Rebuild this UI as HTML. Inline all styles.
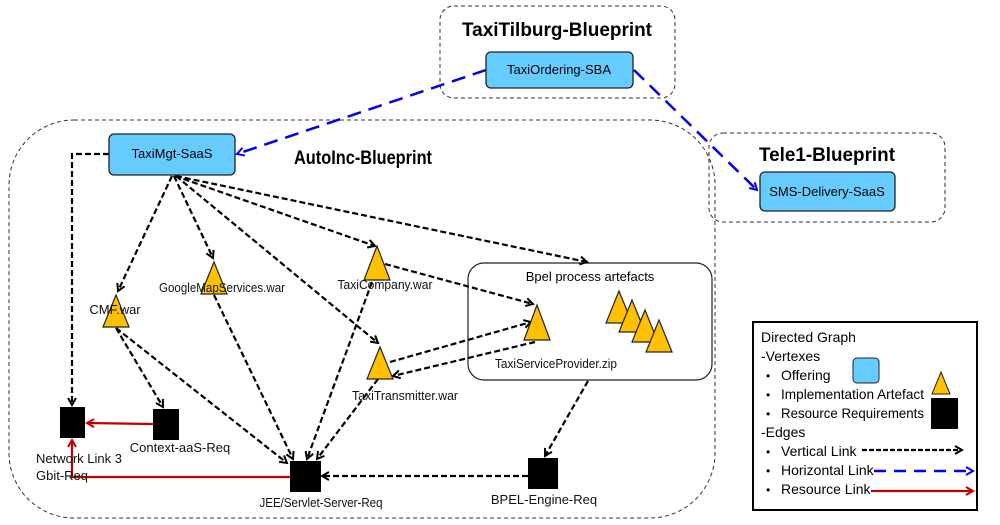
<!DOCTYPE html>
<html><head><style>
body{margin:0;background:#fff;}
svg{display:block;font-family:"Liberation Sans",sans-serif;}
</style></head><body>
<svg width="1000" height="525" viewBox="0 0 1000 525" xmlns="http://www.w3.org/2000/svg">
<defs>
<marker id="ak" markerWidth="10" markerHeight="10" refX="8" refY="5" orient="auto" markerUnits="userSpaceOnUse"><path d="M1,1 L8,5 L1,9" fill="none" stroke="#000" stroke-width="2"/></marker>
<marker id="ab" markerWidth="10" markerHeight="10" refX="8" refY="5" orient="auto" markerUnits="userSpaceOnUse"><path d="M1,1 L8,5 L1,9" fill="none" stroke="#0000ee" stroke-width="2"/></marker>
<marker id="ar" markerWidth="10" markerHeight="10" refX="8" refY="5" orient="auto" markerUnits="userSpaceOnUse"><path d="M1,1 L8,5 L1,9" fill="none" stroke="#c00000" stroke-width="2"/></marker>
</defs>
<rect x="440" y="6" width="235" height="92" rx="14" fill="none" stroke="#333" stroke-dasharray="4,3"/>
<rect x="709" y="133" width="236" height="89" rx="14" fill="none" stroke="#333" stroke-dasharray="4,3"/>
<rect x="9" y="120" width="706" height="398" rx="65" fill="none" stroke="#333" stroke-dasharray="4,3"/>
<rect x="468" y="263" width="244" height="117" rx="16" fill="none" stroke="#222" stroke-width="1.2"/>
<text x="557" y="36" font-size="19" font-weight="bold" text-anchor="middle" textLength="190" lengthAdjust="spacingAndGlyphs">TaxiTilburg-Blueprint</text>
<text x="827" y="161" font-size="19" font-weight="bold" text-anchor="middle" textLength="136" lengthAdjust="spacingAndGlyphs">Tele1-Blueprint</text>
<text x="363" y="164" font-size="19" font-weight="bold" text-anchor="middle" textLength="138" lengthAdjust="spacingAndGlyphs">AutoInc-Blueprint</text>
<text x="590" y="281" font-size="13" text-anchor="middle">Bpel process artefacts</text>

<g stroke="#000" stroke-width="2.2" stroke-dasharray="6,3" fill="none" marker-end="url(#ak)">
<path d="M109,154 L72,154 L72,405"/>
<line x1="172" y1="176" x2="118" y2="291"/>
<line x1="174" y1="176" x2="213" y2="258"/>
<line x1="175" y1="176" x2="375" y2="246"/>
<line x1="176" y1="176" x2="378" y2="343"/>
<line x1="176" y1="176" x2="587" y2="262"/>
<line x1="385" y1="264" x2="533" y2="304"/>
<line x1="390" y1="362" x2="531" y2="322"/>
<line x1="535" y1="342" x2="393" y2="376"/>
<line x1="588" y1="381" x2="545" y2="456"/>
<line x1="116" y1="328" x2="163" y2="407"/>
<line x1="116" y1="328" x2="287" y2="463"/>
<line x1="214" y1="295" x2="293" y2="459"/>
<line x1="372" y1="282" x2="307" y2="459"/>
<line x1="378" y1="379" x2="317" y2="459"/>
<line x1="528" y1="476" x2="322" y2="476"/>
</g>
<g stroke="#c00000" stroke-width="2.2" fill="none" marker-end="url(#ar)">
<line x1="153" y1="424" x2="87" y2="423"/>
<path d="M290,477 L72,477 L72,440"/>
</g>
<g stroke="#0000ee" stroke-width="2.5" stroke-dasharray="14,8" fill="none" marker-end="url(#ab)">
<line x1="486" y1="70" x2="237" y2="154"/>
<line x1="634" y1="70" x2="757" y2="190"/>
</g>

<g fill="#66ccff" stroke="#222" stroke-width="1.3">
<rect x="109" y="134" width="126" height="41" rx="5"/>
<rect x="486" y="52" width="147" height="36" rx="5"/>
<rect x="760" y="172" width="135" height="39" rx="5"/>
</g>
<text x="172" y="158" font-size="13" text-anchor="middle">TaxiMgt-SaaS</text>
<text x="559" y="74" font-size="13" text-anchor="middle">TaxiOrdering-SBA</text>
<text x="827" y="196" font-size="13" text-anchor="middle">SMS-Delivery-SaaS</text>

<g fill="#ffc000" stroke="#222" stroke-width="1.2">
<polygon points="116,295 103,327 129,327"/>
<polygon points="214,262 201,294 227,294"/>
<polygon points="377,246 364,280 390,280"/>
<polygon points="380,347 367,379 393,379"/>
<polygon points="537,305 524,340 550,340"/>
<polygon points="619,291 606,323 632,323"/>
<polygon points="632,300 619,332 645,332"/>
<polygon points="645,310 632,342 658,342"/>
<polygon points="659,320 646,352 672,352"/>
</g>
<g fill="#000">
<rect x="60" y="407" width="25" height="31"/>
<rect x="153" y="409" width="26" height="31"/>
<rect x="290" y="461" width="31" height="31"/>
<rect x="528" y="458" width="30" height="31"/>
</g>
<g font-size="13" fill="#111">
<text x="115" y="314" text-anchor="middle">CMF.war</text>
<text x="222" y="292" text-anchor="middle" textLength="126" lengthAdjust="spacingAndGlyphs">GoogleMapServices.war</text>
<text x="385" y="289" text-anchor="middle" textLength="95" lengthAdjust="spacingAndGlyphs">TaxiCompany.war</text>
<text x="405" y="400" text-anchor="middle" textLength="106" lengthAdjust="spacingAndGlyphs">TaxiTransmitter.war</text>
<text x="556" y="368" text-anchor="middle" textLength="122" lengthAdjust="spacingAndGlyphs">TaxiServiceProvider.zip</text>
<text x="36" y="463">Network Link 3</text>
<text x="36" y="480">Gbit-Req</text>
<text x="180" y="452" text-anchor="middle">Context-aaS-Req</text>
<text x="321" y="507" text-anchor="middle" textLength="123" lengthAdjust="spacingAndGlyphs">JEE/Servlet-Server-Req</text>
<text x="544" y="504" text-anchor="middle">BPEL-Engine-Req</text>
</g>

<rect x="753" y="322" width="224" height="188" fill="#fff" stroke="#000" stroke-width="2"/>
<g font-size="14" fill="#000">
<text x="761" y="342">Directed Graph</text>
<text x="761" y="361">-Vertexes</text>
<text x="766" y="380" font-size="12">•</text><text x="781" y="380">Offering</text>
<text x="766" y="399" font-size="12">•</text><text x="781" y="399" textLength="143" lengthAdjust="spacingAndGlyphs">Implementation Artefact</text>
<text x="766" y="418" font-size="12">•</text><text x="781" y="418" textLength="143" lengthAdjust="spacingAndGlyphs">Resource Requirements</text>
<text x="761" y="437">-Edges</text>
<text x="766" y="456" font-size="12">•</text><text x="781" y="456">Vertical Link</text>
<text x="766" y="475" font-size="12">•</text><text x="781" y="475">Horizontal Link</text>
<text x="766" y="494" font-size="12">•</text><text x="781" y="494">Resource Link</text>
</g>
<rect x="853" y="358" width="26" height="25" rx="4" fill="#66ccff" stroke="#222"/>
<polygon points="941,372 932,394 950,394" fill="#ffc000" stroke="#222"/>
<rect x="931" y="398" width="27" height="31" fill="#000"/>
<line x1="862" y1="450" x2="962" y2="450" stroke="#000" stroke-width="2.2" stroke-dasharray="5,2" marker-end="url(#ak)"/>
<line x1="874" y1="471" x2="973" y2="471" stroke="#0000ee" stroke-width="2.5" stroke-dasharray="12,8" marker-end="url(#ab)"/>
<line x1="871" y1="491" x2="973" y2="491" stroke="#c00000" stroke-width="2.2" marker-end="url(#ar)"/>
</svg>
</body></html>
